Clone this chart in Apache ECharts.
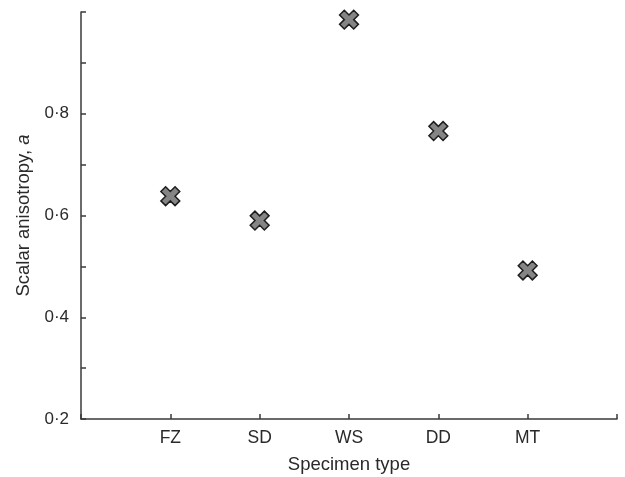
<!DOCTYPE html>
<html>
<head>
<meta charset="utf-8">
<script src="https://cdn.jsdelivr.net/npm/echarts@6/dist/echarts.min.js"></script>
<style>
  html, body { margin: 0; padding: 0; background: #fff; }
  #chart { width: 625px; height: 477px; }
</style>
</head>
<body>
<div id="chart"></div>
<script>
// specimen types, with an empty slot at each end of the axis
var categories = ['FZ', 'SD', 'WS', 'DD', 'MT'];
var anisotropy = [0.638, 0.590, 0.985, 0.766, 0.492];
var yLabelled = [0.2, 0.4, 0.6, 0.8];

var axisCats = [''].concat(categories, ['']);
var points = categories.map(function (c, i) { return [c, anisotropy[i]]; });

// fat cross, rotated 45 deg to make an X
var crossPath = 'path://M-1,-3H1V-1H3V1H1V3H-1V1H-3V-1H-1Z';

var myChart = echarts.init(document.getElementById('chart'));
var axisCol = '#3a3a3a';
var txtCol = '#2a2a2a';
var option = {
  animation: false,
  textStyle: { fontFamily: 'Liberation Sans, Arial, sans-serif' },
  grid: { left: 81, right: 8, top: 12, bottom: 58, containLabel: false, outerBoundsMode: 'none' },
  xAxis: {
    type: 'category',
    data: axisCats,
    boundaryGap: false,
    name: 'Specimen type',
    nameLocation: 'middle',
    nameGap: 36,
    nameTextStyle: { fontSize: 18.5, color: txtCol },
    axisLine: { lineStyle: { color: axisCol, width: 1.5 } },
    axisTick: { inside: true, length: 5, interval: 0, lineStyle: { color: axisCol, width: 1.5 } },
    axisLabel: { interval: 0, fontSize: 17.5, color: txtCol, margin: 10 },
    splitLine: { show: false }
  },
  yAxis: {
    type: 'value',
    min: 0.2,
    max: 1.0,
    interval: 0.1,
    name: 'Scalar anisotropy, {i|a}',
    nameLocation: 'middle',
    nameGap: 46,
    nameTextStyle: {
      fontSize: 18.5, color: txtCol,
      rich: { i: { fontStyle: 'italic', fontSize: 18.5, color: txtCol } }
    },
    axisLine: { show: true, lineStyle: { color: axisCol, width: 1.5 } },
    axisTick: { show: true, inside: true, length: 5, lineStyle: { color: axisCol, width: 1.5 } },
    axisLabel: {
      fontSize: 17, color: txtCol, margin: 12,
      formatter: function (v) {
        var hit = yLabelled.some(function (t) { return Math.abs(t - v) < 1e-6; });
        return hit ? v.toFixed(1).replace('.', '\u00b7') : '';
      }
    },
    splitLine: { show: false }
  },
  series: [{
    type: 'scatter',
    data: points,
    symbol: crossPath,
    symbolSize: 20,
    symbolRotate: 45,
    itemStyle: { color: '#858585', borderColor: '#1e1e1e', borderWidth: 1.5, opacity: 1 }
  }]
};
myChart.setOption(option);
</script>
</body>
</html>
